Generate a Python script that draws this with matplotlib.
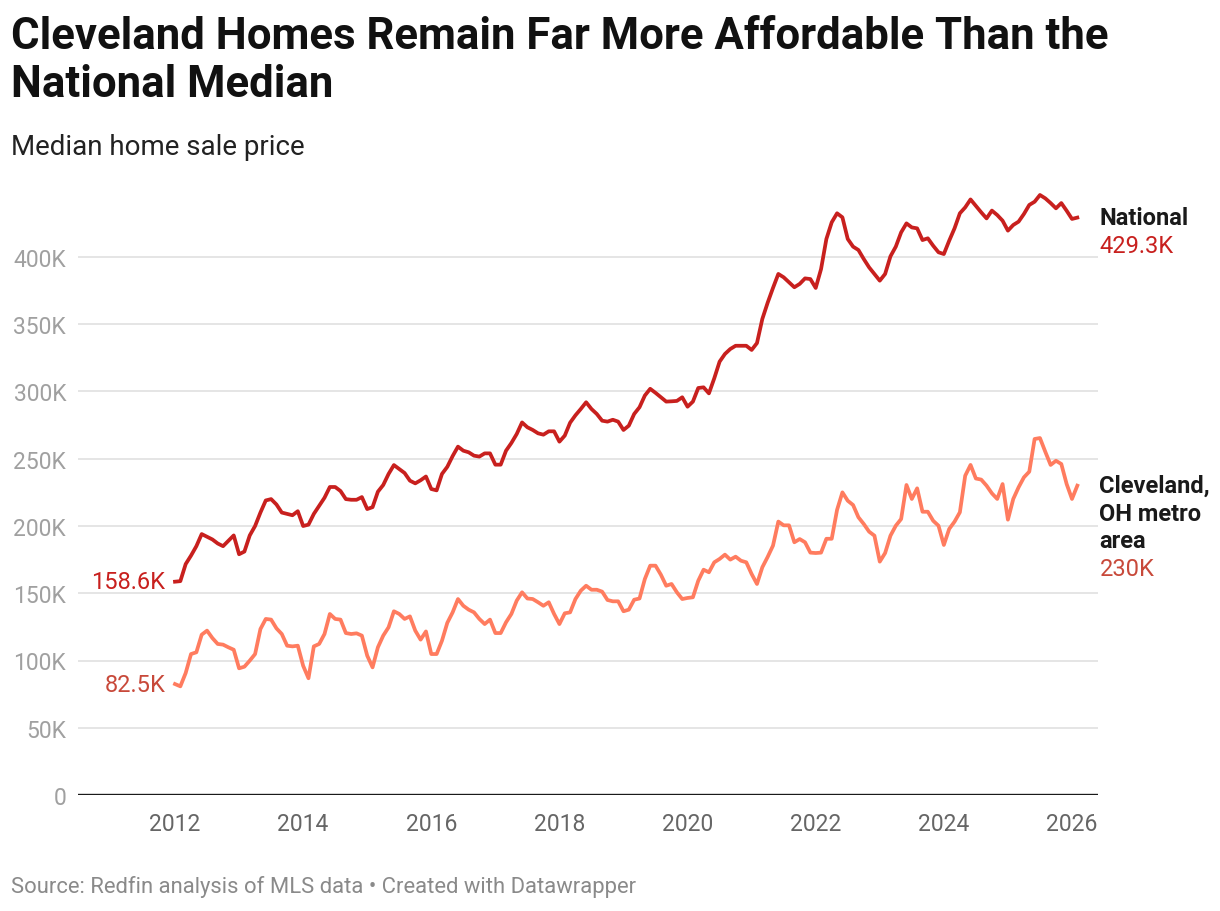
import numpy as np
import matplotlib.pyplot as plt

plt.rcParams['font.family'] = ['Roboto', 'DejaVu Sans']

# monthly median sale price, thousands of dollars, Jan 2012 - Feb 2026
national = [
    158.6, 159, 171.7, 178, 185, 194, 192, 190, 187, 185, 189, 193,
    179, 181, 193, 200, 210, 219, 220, 216, 210, 209, 208, 211,
    200, 201, 209, 215, 221, 229, 229, 226, 220, 219.5, 219.5, 221.5,
    212.6, 214, 225.5, 230.5, 238.7, 245.3, 242.4, 239.4, 233.7, 231.7, 234, 236.8,
    227.5, 226.5, 238.7, 244, 252, 259, 256, 254.8, 252.3, 251.6, 254, 254,
    245.6, 245.6, 256, 261.7, 268.4, 277, 273.4, 271.4, 268.9, 267.9, 270.4, 270.4,
    262.7, 267.2, 276.8, 282.3, 287, 292, 287, 283.3, 278.3, 277.6, 279, 277.6,
    271.4, 274.6, 283.3, 288.3, 297, 302, 299, 295.7, 292.5, 292.7, 293, 295.7,
    288.7, 292.5, 302.6, 303.1, 298.6, 309.8, 322.2, 327.9, 331.6, 334, 334, 334,
    330.9, 336, 353.9, 366, 377, 387.4, 384.9, 381.2, 377.5, 380, 384.1, 383.6,
    377, 391, 413.4, 425.8, 432.5, 429.5, 413.4, 407.7, 405.2, 398.5, 392.3, 387.4,
    382.4, 387.4, 400.5, 407.7, 418.3, 425, 422, 421.3, 412.6, 413.9, 408.4, 403.5,
    402.2, 412.1, 421.3, 432.5, 436.9, 442.8, 438, 433.2, 428.7, 434.5, 431.2, 427,
    419.6, 423.8, 426.3, 432, 438.7, 441.1, 446.1, 443.6, 440.1, 436.2, 440.1, 434.4,
    428.3, 429.3,
]
cleveland = [
    82.5, 80.8, 90.7, 104.8, 106.1, 119.2, 122.2, 116.7, 112.3, 111.8, 109.8, 108,
    94.2, 95.4, 99.9, 104.8, 123.4, 130.9, 130.4, 123.9, 119.7, 111, 110.5, 111,
    96.1, 86.8, 110.5, 112.3, 119.7, 134.6, 130.9, 130.4, 120.4, 119.7, 120.2, 118.5,
    103.6, 94.9, 109.8, 118.5, 124.7, 136.6, 134.6, 130.9, 132.8, 122.2, 115.5, 121.6,
    104.8, 104.8, 114.7, 128, 135.8, 145.7, 140.7, 137.8, 135.8, 130.9, 127.1, 130.4,
    120.4, 120.4, 128.4, 134.6, 144.5, 150.7, 146.1, 145.7, 143.3, 140.7, 143.3, 134.6,
    127.1, 135.1, 135.8, 145.7, 151.9, 155.6, 152.6, 152.6, 151.2, 145, 144, 144,
    136.6, 137.8, 145.2, 146.1, 160.6, 170.5, 170.5, 163.8, 155.6, 156.9, 150.7, 145.7,
    146.5, 147, 159.3, 167.5, 165.6, 173, 175.5, 178.7, 175, 177.2, 174.2, 173,
    164.3, 156.9, 169.3, 177, 185.4, 203.3, 200.5, 200.5, 187.9, 190.3, 187.9, 180.2,
    179.9, 180.2, 190.5, 190.5, 212, 225, 218.8, 215.6, 206.5, 201.5, 195.8, 192.8,
    173.5, 179.9, 192.8, 200.2, 205.2, 230.5, 220.1, 228, 210.6, 210.6, 203.9, 200.2,
    185.9, 197.8, 203.2, 210.2, 237.4, 245.4, 235.3, 234.5, 230, 224.3, 220.1, 231.2,
    204.7, 220.1, 228.8, 236.2, 240.4, 264.7, 265.4, 255.2, 245.4, 248.5, 246.1, 231.2,
    220.1, 230,
]
start_year = 2012
x_years = [2012, 2014, 2016, 2018, 2020, 2022, 2024, 2026]
y_ticks = [0, 50, 100, 150, 200, 250, 300, 350, 400]
y_labels = ['0', '50K', '100K', '150K', '200K', '250K', '300K', '350K', '400K']

dates = start_year + np.arange(len(national)) / 12

red = '#c8201e'
salmon = '#ff7c5f'
salmon_text = '#c8493a'

fig = plt.figure(figsize=(12.2, 9.12), dpi=100)
ax = fig.add_axes([78 / 1220, 116 / 912, 1020 / 1220, 618.7 / 912])

ax.plot(dates, national, color=red, lw=2.7, solid_joinstyle='round', zorder=3)
ax.plot(dates, cleveland, color=salmon, lw=2.7, solid_joinstyle='round', zorder=3)

ax.set_xlim(2010.486, 2026.406)
ax.set_ylim(0, 460)
ax.set_xticks(x_years)
ax.set_xticklabels([str(y) for y in x_years])
ax.set_yticks(y_ticks)
ax.set_yticklabels(y_labels)
for v in y_ticks[1:]:
    ax.axhline(v, color='#e3e3e3', lw=1.3, zorder=1)
ax.axhline(0, color='#1a1a1a', lw=1.7, zorder=4)
for s in ax.spines.values():
    s.set_visible(False)
ax.tick_params(axis='both', length=0)
ax.tick_params(axis='y', labelsize=16.5, labelcolor='#a0a0a0', pad=8.6)
ax.tick_params(axis='x', labelsize=16.5, labelcolor='#666666', pad=12)

# start values
ax.annotate('158.6K', xy=(dates[0], national[0]), xytext=(-7, 0),
            textcoords='offset points', ha='right', va='center',
            fontsize=17, color=red)
ax.annotate('82.5K', xy=(dates[0], cleveland[0]), xytext=(-7, 0),
            textcoords='offset points', ha='right', va='center',
            fontsize=17, color=salmon_text)

# end labels
def end_label(lines, value_text, val, color):
    tr = ax.get_yaxis_transform()
    for k, line in enumerate(lines + [value_text]):
        last = k == len(lines)
        ax.annotate(line, xy=(1.0, val), xycoords=tr, xytext=(1, -k * 19.8),
                    textcoords='offset points', ha='left', va='center',
                    fontsize=17, color=color if last else '#1a1a1a',
                    weight='normal' if last else 'bold', annotation_clip=False)

end_label(['National'], '429.3K', national[-1], red)
end_label(['Cleveland,', 'OH metro', 'area'], '230K', cleveland[-1], salmon_text)

fig.text(11 / 1220, 1 - 16 / 912,
         'Cleveland Homes Remain Far More Affordable Than the\nNational Median',
         ha='left', va='top', fontsize=31.5, weight='bold', color='#111111',
         linespacing=1.18)
fig.text(11 / 1220, 1 - 148 / 912, 'Median home sale price', ha='left',
         va='center', fontsize=20, color='#222222')
fig.text(11 / 1220, 1 - 887 / 912,
         'Source: Redfin analysis of MLS data \u2022 Created with Datawrapper',
         ha='left', va='center', fontsize=15.8, color='#8a8a8a')

fig.savefig('out.png', dpi=100, facecolor='white')
